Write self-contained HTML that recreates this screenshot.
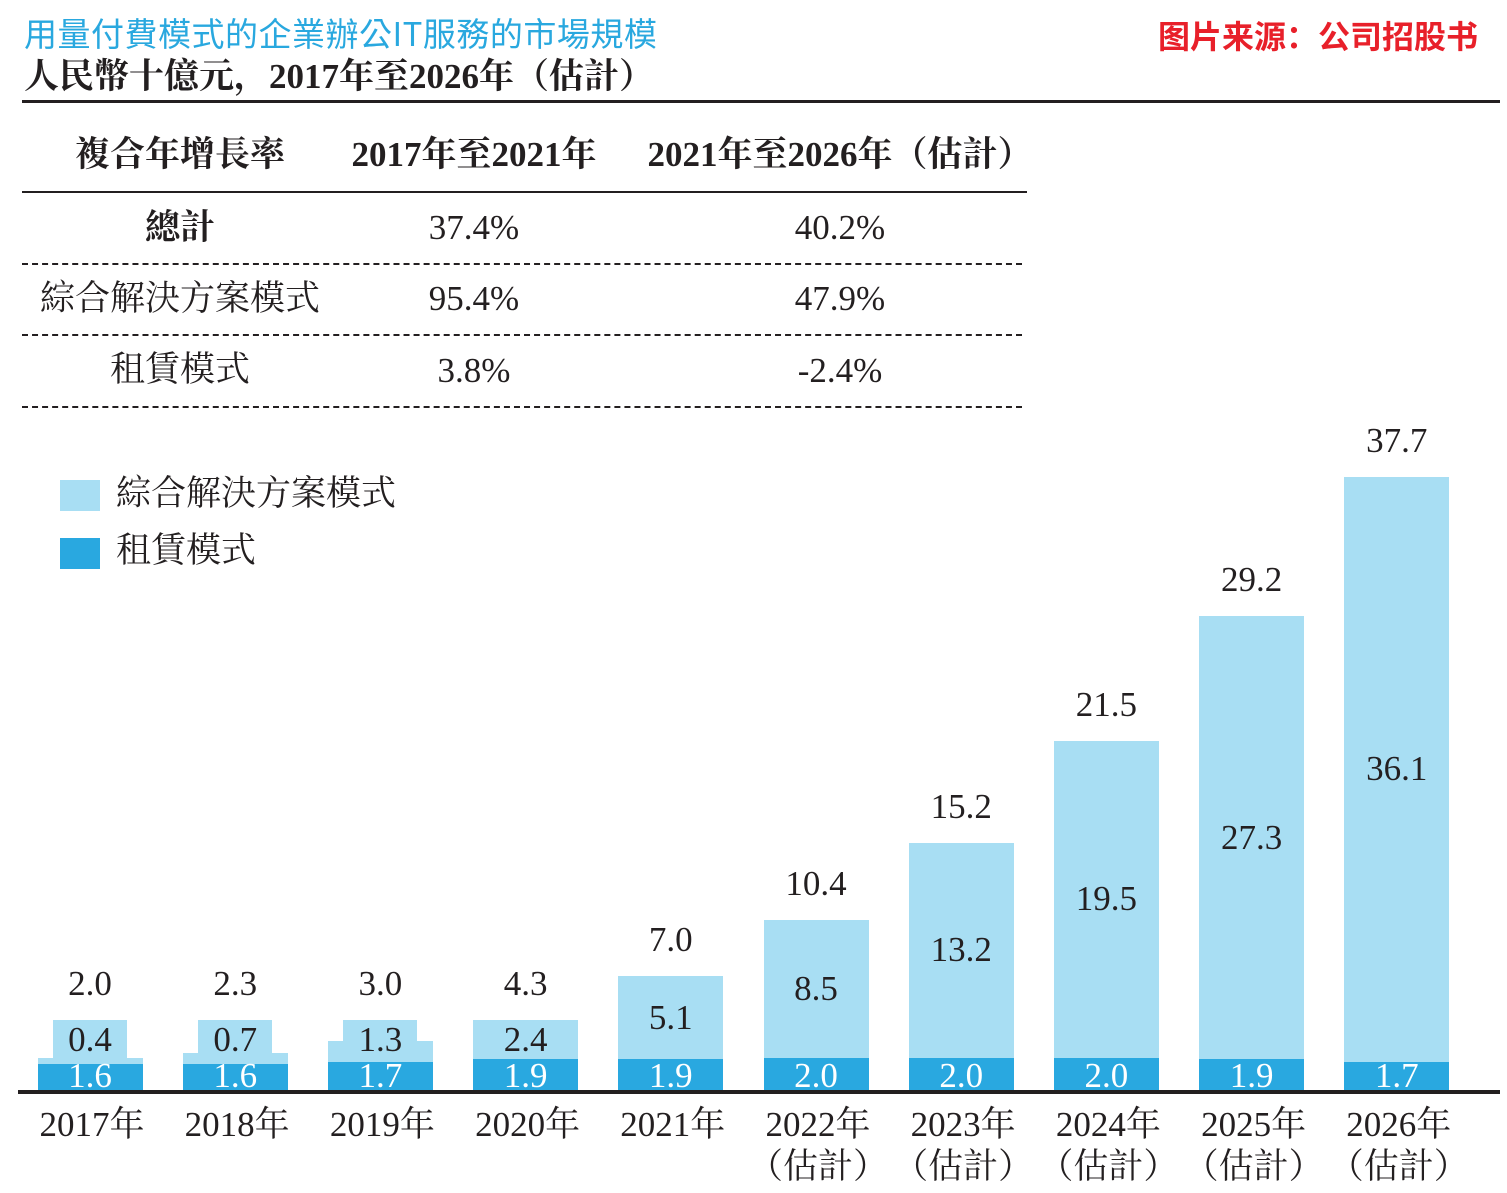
<!DOCTYPE html>
<html><head><meta charset="utf-8">
<style>
body{margin:0;width:1507px;height:1193px;background:#fff;position:relative;overflow:hidden;font-family:"Liberation Serif","Noto Serif CJK SC",serif;color:#231f20}
.a{position:absolute;white-space:nowrap;line-height:40px}
.c{transform:translateX(-50%);text-align:center}
.t{font-size:35px}
</style></head><body>
<div class="a" style="left:24px;top:12px;font-size:33px;color:#29a8df;font-family:'Noto Sans CJK TC',sans-serif;letter-spacing:0.5px">用量付費模式的企業辦公IT服務的市場規模</div>
<div class="a" style="left:24px;top:57px;font-size:35px;font-weight:bold">人民幣十億元，2017年至2026年（估計）</div>
<div class="a" style="left:1158px;top:15px;font-size:32px;font-weight:bold;color:#e8202a;font-family:'Noto Sans CJK SC',sans-serif">图片来源：公司招股书</div>
<div class="a" style="left:22px;top:100px;width:1478px;height:3px;background:#231f20"></div>

<div class="a c t" style="left:180px;top:135px;font-weight:bold">複合年增長率</div>
<div class="a c t" style="left:474px;top:135px;font-weight:bold">2017年至2021年</div>
<div class="a c t" style="left:840px;top:135px;font-weight:bold">2021年至2026年（估計）</div>
<div class="a" style="left:22px;top:191px;width:1005px;height:2px;background:#231f20"></div>
<div class="a c t" style="left:180px;top:208px;font-weight:bold">總計</div>
<div class="a c t" style="left:474px;top:208px">37.4%</div>
<div class="a c t" style="left:840px;top:208px">40.2%</div>
<div class="a" style="left:22px;top:263px;width:1000px;border-top:2px dashed #231f20"></div>
<div class="a c t" style="left:180px;top:279px">綜合解決方案模式</div>
<div class="a c t" style="left:474px;top:279px">95.4%</div>
<div class="a c t" style="left:840px;top:279px">47.9%</div>
<div class="a" style="left:22px;top:334px;width:1000px;border-top:2px dashed #231f20"></div>
<div class="a c t" style="left:180px;top:350px">租賃模式</div>
<div class="a c t" style="left:474px;top:351px">3.8%</div>
<div class="a c t" style="left:840px;top:351px">-2.4%</div>
<div class="a" style="left:22px;top:406px;width:1000px;border-top:2px dashed #231f20"></div>

<div class="a" style="left:60px;top:480px;width:40px;height:31px;background:#a8def3"></div>
<div class="a t" style="left:116px;top:474px">綜合解決方案模式</div>
<div class="a" style="left:60px;top:538px;width:40px;height:31px;background:#29a8e0"></div>
<div class="a t" style="left:116px;top:531px">租賃模式</div>

<div id="chart"></div>
<div class="a" style="left:18px;top:1090px;width:1482px;height:4px;background:#231f20"></div>

<script>
const years=["2017年","2018年","2019年","2020年","2021年","2022年","2023年","2024年","2025年","2026年"];
const estimated=[false,false,false,false,false,true,true,true,true,true];
const leasing=[1.6,1.6,1.7,1.9,1.9,2.0,2.0,2.0,1.9,1.7];
const integrated=[0.4,0.7,1.3,2.4,5.1,8.5,13.2,19.5,27.3,36.1];
const totals=[2.0,2.3,3.0,4.3,7.0,10.4,15.2,21.5,29.2,37.7];

const base=1090, ppu=16.23, x0=90, step=145.2, bw=105;
const yv=v=>base-v*ppu;
const xc=i=>x0+i*step;
const chart=document.getElementById('chart');
function div(css,txt){const d=document.createElement('div');d.className='a';d.style.cssText=css;if(txt!==undefined)d.textContent=txt;chart.appendChild(d);return d;}
years.forEach((y,i)=>{
  const cx=xc(i), l=cx-bw/2;
  const lt=yv(leasing[i]), it=yv(leasing[i]+integrated[i]);
  const b1=div(`left:${l}px;top:${lt}px;width:${bw}px;height:${base-lt}px;background:#29a8e0`);
  
  
  const b2=div(`left:${l}px;top:${it}px;width:${bw}px;height:${lt-it}px;background:#a8def3`);
  
  
  const lv=div(`left:${cx}px;top:${1076-20}px;font-size:35px;color:#fff;transform:translateX(-50%)`,leasing[i].toFixed(1));
  
  
  const h=lt-it;
  let labelMid=(lt+it)/2;
  if(h<36){
    const boxTop=1020;
    const box=div(`left:${cx-37}px;top:${boxTop}px;width:74px;height:${it-boxTop}px;background:#a8def3`);
    
    
    labelMid=1040;
  }
  const iv=div(`left:${cx}px;top:${labelMid-20}px;font-size:35px;transform:translateX(-50%)`,integrated[i].toFixed(1));
  
  
  const topY=h<36?1020:it;
  const tv=div(`left:${cx}px;top:${topY-56}px;font-size:35px;transform:translateX(-50%)`,totals[i].toFixed(1));
  
  
  const xl=div(`left:${cx+2}px;top:1104px;font-size:35px;transform:translateX(-50%);text-align:center;line-height:42px`);
  xl.innerHTML=y+(estimated[i]?'<br>（估計）':'');
  
  
});
</script>
</body></html>
